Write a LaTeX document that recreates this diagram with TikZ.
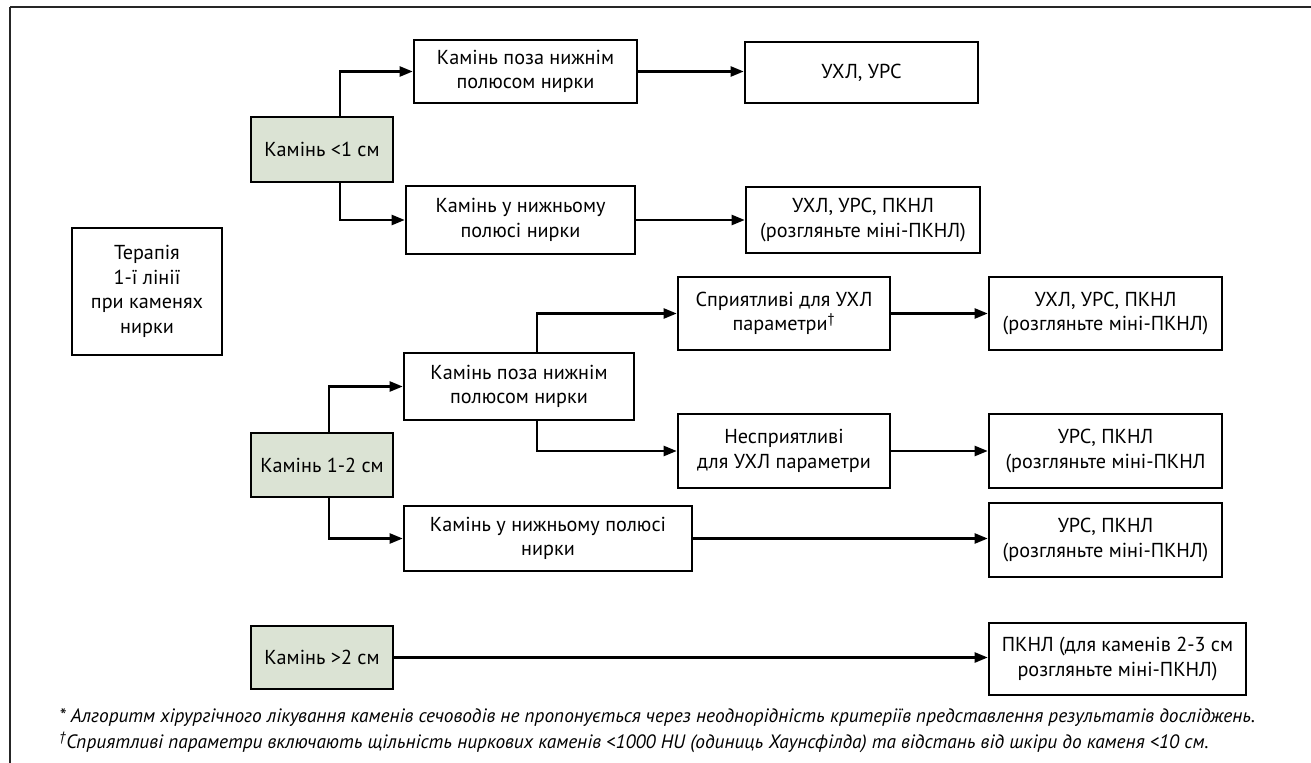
\documentclass[tikz,border=0pt]{standalone}
\usepackage{fontspec}
\setmainfont{PT Sans}
\usetikzlibrary{arrows.meta}

\definecolor{stonegreen}{RGB}{219,227,212}

\begin{document}
\begin{tikzpicture}[x=0.02cm, y=-0.02cm, font=\fontsize{11.5}{14}\selectfont,
    box/.style={draw, line width=1.5pt, fill=white, align=center, inner sep=2pt},
    sizebox/.style={box, fill=stonegreen},
    arr/.style={line width=1.3pt, -{Triangle[length=0.26cm, width=0.2cm]}}]
    \useasboundingbox (0,0) rectangle (1311,763);

    % Frame lines (top and left only)
    \draw[line width=0.6pt, black!85] (10,7) -- (1311,7);
    \draw[line width=0.6pt, black!85] (10,7) -- (10,763);

    % Start box
    \node[box, minimum width=3.0cm, minimum height=2.54cm] (ther) at (147,291.5) {Терапія\\1-ї лінії\\при каменях\\нирки};

    % Stone size boxes
    \node[sizebox, minimum width=2.84cm, minimum height=1.30cm] (lt1) at (322,149.5) {Камінь <1 см};
    \node[sizebox, minimum width=2.84cm, minimum height=1.28cm] (mid) at (322,465) {Камінь 1-2 см};
    \node[sizebox, minimum width=2.84cm, minimum height=1.26cm] (gt2) at (322,657.5) {Камінь >2 см};

    % Stones < 1 cm
    \node[box, minimum width=4.46cm, minimum height=1.26cm] (a1) at (525.5,71.5) {Камінь поза нижнім\\полюсом нирки};
    \node[box, minimum width=4.66cm, minimum height=1.22cm] (a1r) at (861.5,72.5) {УХЛ, УРС};
    \node[box, minimum width=4.58cm, minimum height=1.36cm] (a2) at (520.5,220) {Камінь у нижньому\\полюсі нирки};
    \node[box, minimum width=4.68cm, minimum height=1.32cm] (a2r) at (863,220) {УХЛ, УРС, ПКНЛ\\(розгляньте міні-ПКНЛ)};

    % Stones 1-2 cm
    \node[box, minimum width=4.60cm, minimum height=1.34cm] (b1) at (519,386.5) {Камінь поза нижнім\\полюсом нирки};
    \node[box, minimum width=4.24cm, minimum height=1.46cm] (b1a) at (784,313.5) {Сприятливі для УХЛ\\параметри\textsuperscript{†}};
    \node[box, minimum width=4.66cm, minimum height=1.46cm] (b1ar) at (1105.5,313.5) {УХЛ, УРС, ПКНЛ\\(розгляньте міні-ПКНЛ)};
    \node[box, minimum width=4.24cm, minimum height=1.48cm] (b1b) at (784,451) {Несприятливі\\для УХЛ параметри};
    \node[box, minimum width=4.66cm, minimum height=1.48cm] (b1br) at (1105.5,451) {УРС, ПКНЛ\\(розгляньте міні-ПКНЛ};
    \node[box, minimum width=5.76cm, minimum height=1.30cm] (b2) at (548,538.5) {Камінь у нижньому полюсі\\нирки};
    \node[box, minimum width=4.66cm, minimum height=1.48cm] (b2r) at (1105.5,540) {УРС, ПКНЛ\\(розгляньте міні-ПКНЛ)};

    % Stones > 2 cm
    \node[box, minimum width=5.14cm, minimum height=1.44cm] (gt2r) at (1117.5,659) {ПКНЛ (для каменів 2-3 см\\розгляньте міні-ПКНЛ)};

    % Branching connectors
    \draw[arr] ([xshift=0.36cm]lt1.north) |- (a1.west);
    \draw[arr] ([xshift=0.36cm]lt1.south) |- (a2.west);
    \draw[arr] ([xshift=0.14cm]mid.north) |- (b1.west);
    \draw[arr] ([xshift=0.14cm]mid.south) |- (b2.west);
    \draw[arr] ([xshift=0.36cm]b1.north) |- (b1a.west);
    \draw[arr] ([xshift=0.36cm]b1.south) |- (b1b.west);

    % Straight connectors to the treatments
    \foreach \a/\b in {a1/a1r, a2/a2r, b1a/b1ar, b1b/b1br, b2/b2r, gt2/gt2r}
        \draw[arr] (\a.east) -- (\a.east -| \b.west);

    % Footnotes
    \node[anchor=west, inner sep=0pt, font=\fontsize{11}{13}\selectfont\itshape] (note1) at (59,718) {* Алгоритм хірургічного лікування каменів сечоводів не пропонується через неоднорідність критеріїв представлення результатів досліджень.};
    \node[anchor=west, inner sep=0pt, font=\fontsize{11}{13}\selectfont\itshape] (note2) at (59,742) {\textsuperscript{†}Сприятливі параметри включають щільність ниркових каменів <1000 HU (одиниць Хаунсфілда) та відстань від шкіри до каменя <10 см.};
\end{tikzpicture}
\end{document}
